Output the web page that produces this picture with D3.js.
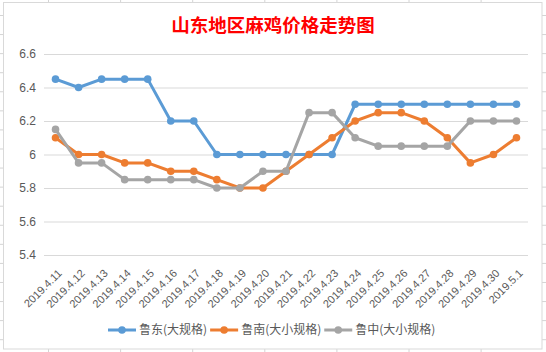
<!DOCTYPE html>
<html>
<head>
<meta charset="utf-8">
<script src="https://cdn.jsdelivr.net/npm/d3@7"></script>
<style>
  body { margin: 0; background: #fff; }
  svg { display: block; }
</style>
</head>
<body>
<div id="chart"></div>
<script>
// data
const dates = ["2019.4.11", "2019.4.12", "2019.4.13", "2019.4.14", "2019.4.15", "2019.4.16", "2019.4.17",
    "2019.4.18", "2019.4.19", "2019.4.20", "2019.4.21", "2019.4.22", "2019.4.23", "2019.4.24",
    "2019.4.25", "2019.4.26", "2019.4.27", "2019.4.28", "2019.4.29", "2019.4.30", "2019.5.1"];
const ludong = [6.45, 6.4, 6.45, 6.45, 6.45, 6.2, 6.2, 6.0, 6.0, 6.0, 6.0, 6.0, 6.0, 6.3, 6.3, 6.3, 6.3, 6.3, 6.3, 6.3, 6.3];
const lunan = [6.1, 6.0, 6.0, 5.95, 5.95, 5.9, 5.9, 5.85, 5.8, 5.8, 5.9, 6.0, 6.1, 6.2, 6.25, 6.25, 6.2, 6.1, 5.95, 6.0, 6.1];
const luzhong = [6.15, 5.95, 5.95, 5.85, 5.85, 5.85, 5.85, 5.8, 5.8, 5.9, 5.9, 6.25, 6.25, 6.1, 6.05, 6.05, 6.05, 6.05, 6.2, 6.2, 6.2];
const seriesNames = ["鲁东(大规格)", "鲁南(大小规格)", "鲁中(大小规格)"];
const colors = ["#5B9BD5", "#ED7D31", "#A5A5A5"];
const yTicks = [5.4, 5.6, 5.8, 6.0, 6.2, 6.4, 6.6];

const W = 546, H = 352;
const margin = { top: 54, right: 18, bottom: 97, left: 44 },
    width = W - margin.left - margin.right,
    height = H - margin.top - margin.bottom;

const svg = d3.select("#chart")
    .append("svg")
    .attr("width", W)
    .attr("height", H);

// spreadsheet cell lines peeking around the chart
const deco = svg.append("g").attr("stroke", "#d4d4d4").attr("stroke-width", 1);
for (let cx = 48.5; cx < W; cx += 72.1) {
    deco.append("line").attr("x1", cx).attr("x2", cx).attr("y1", 0).attr("y2", 2);
    deco.append("line").attr("x1", cx).attr("x2", cx).attr("y1", 349).attr("y2", H);
}
for (let cy = 15.5; cy < H; cy += 19.07) {
    deco.append("line").attr("x1", 0).attr("x2", 3).attr("y1", cy).attr("y2", cy);
    deco.append("line").attr("x1", 542).attr("x2", W).attr("y1", cy).attr("y2", cy);
}
// chart frame
svg.append("rect")
    .attr("x", 3.5).attr("y", 2.5)
    .attr("width", 538.5).attr("height", 346.5)
    .attr("fill", "#fff")
    .attr("stroke", "#d9d9d9");

const g = svg.append("g")
    .attr("transform", `translate(${margin.left},${margin.top})`);

// scales
const x = d3.scaleBand()
    .domain(dates)
    .range([0, width]);
const px = d => x(d) + x.bandwidth() / 2;

const y = d3.scaleLinear()
    .domain([5.4, 6.6])
    .range([height, 0]);

// Y axis with gridlines
g.append("g")
    .call(d3.axisLeft(y).tickValues(yTicks).tickSize(-width).tickPadding(8)
        .tickFormat(d => String(+d.toFixed(1))))
    .call(a => a.select(".domain").remove())
    .call(a => a.selectAll("line").attr("stroke", "#d9d9d9"))
    .call(a => a.selectAll("text")
        .attr("fill", "#595959")
        .style("font-family", "Liberation Sans, Arial, sans-serif")
        .style("font-size", "12px"));

// X axis, rotated labels
g.append("g")
    .attr("transform", `translate(0,${height})`)
    .call(d3.axisBottom(x).tickSize(0).tickPadding(0))
    .call(a => a.select(".domain").remove())
    .selectAll("text")
    .attr("fill", "#595959")
    .style("font-family", "Liberation Sans, Arial, sans-serif")
    .style("font-size", "11px")
    .attr("dy", null)
    .attr("y", 0)
    .attr("transform", "translate(7,19)rotate(-45)")
    .style("text-anchor", "end");

// lines and markers
const allSeries = [ludong, lunan, luzhong];
const line = d3.line()
    .x((d, i) => px(dates[i]))
    .y(d => y(d));

allSeries.forEach((vals, k) => {
    g.append("path")
        .datum(vals)
        .attr("fill", "none")
        .attr("stroke", colors[k])
        .attr("stroke-width", 3)
        .attr("stroke-linejoin", "round")
        .attr("d", line);
    g.selectAll(".m" + k)
        .data(vals)
        .join("circle")
        .attr("class", "m" + k)
        .attr("cx", (d, i) => px(dates[i]))
        .attr("cy", d => y(d))
        .attr("r", 3.8)
        .attr("fill", colors[k]);
});

// title
svg.append("text")
    .attr("x", 273)
    .attr("y", 32)
    .attr("text-anchor", "middle")
    .attr("fill", "#ff0000")
    .style("font-family", "Noto Sans CJK SC, sans-serif")
    .style("font-size", "18.5px")
    .style("font-weight", "bold")
    .text("山东地区麻鸡价格走势图");

// legend
const legend = svg.append("g").attr("transform", "translate(0,330)");
let lx = 108;
seriesNames.forEach((name, k) => {
    const item = legend.append("g").attr("transform", `translate(${lx},0)`);
    item.append("line")
        .attr("x1", 0).attr("x2", 28)
        .attr("stroke", colors[k]).attr("stroke-width", 3);
    item.append("circle")
        .attr("cx", 14).attr("r", 3.8).attr("fill", colors[k]);
    const t = item.append("text")
        .attr("x", 31)
        .attr("dy", "0.35em")
        .attr("fill", "#595959")
        .style("font-family", "Noto Sans CJK SC, sans-serif")
        .style("font-size", "12px")
        .text(name);
    lx += 31 + t.node().getComputedTextLength() + 3;
});
</script>
</body>
</html>
